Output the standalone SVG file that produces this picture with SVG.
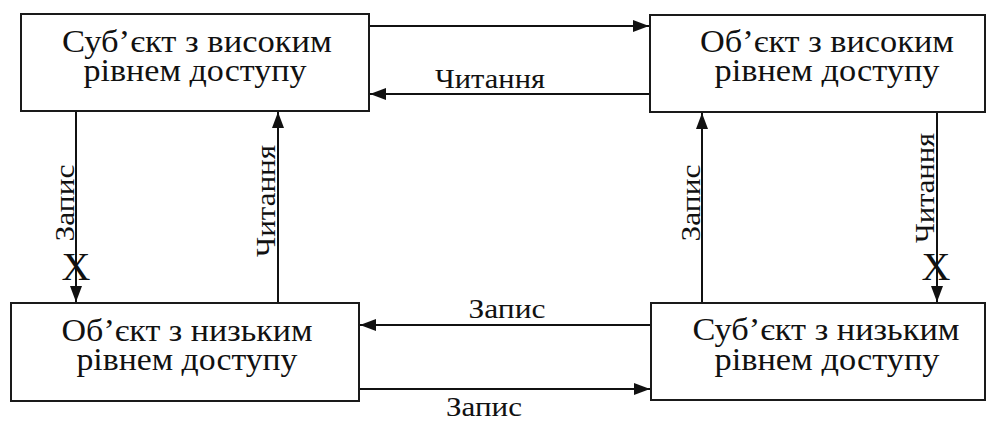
<svg xmlns="http://www.w3.org/2000/svg" width="986" height="421" viewBox="0 0 986 421">
<defs>
<style>
.box{fill:#fff;stroke:#1a1a1a;stroke-width:2}
.bt{font-family:'Liberation Serif','DejaVu Serif','Noto Serif','Times New Roman','FreeSerif','Tinos',serif;font-size:31px;fill:#111;text-anchor:middle}
.lbl{font-family:'Liberation Serif','DejaVu Serif','Noto Serif','Times New Roman','FreeSerif','Tinos',serif;font-size:27px;fill:#111;text-anchor:middle}
.xm{font-family:'Liberation Serif','DejaVu Serif',serif;font-size:40px;fill:#111;text-anchor:middle}
.ln{stroke:#111;stroke-width:2;fill:none;marker-end:url(#ah)}
</style>
<marker id="ah" markerWidth="16" markerHeight="12" refX="16" refY="6" orient="auto" markerUnits="userSpaceOnUse">
<path d="M0,0 L16,6 L0,12 Z" fill="#111"/>
</marker>
</defs>
<rect width="986" height="421" fill="#fff"/>
<g id="connectors">
<line class="ln" x1="370" y1="26" x2="649" y2="26"/>
<line class="ln" x1="650" y1="94" x2="370" y2="94"/>
<text class="lbl" x="490" y="88" textLength="110" lengthAdjust="spacingAndGlyphs">Читання</text>
<line class="ln" x1="76" y1="112" x2="76" y2="302"/>
<text class="lbl" transform="translate(74,203) rotate(-90)" textLength="77" lengthAdjust="spacingAndGlyphs">Запис</text>
<text class="xm" x="76" y="280">X</text>
<line class="ln" x1="278" y1="303" x2="278" y2="112"/>
<text class="lbl" transform="translate(275,201) rotate(-90)" textLength="112" lengthAdjust="spacingAndGlyphs">Читання</text>
<line class="ln" x1="702" y1="303" x2="702" y2="113"/>
<text class="lbl" transform="translate(700,203) rotate(-90)" textLength="77" lengthAdjust="spacingAndGlyphs">Запис</text>
<line class="ln" x1="937" y1="113" x2="937" y2="302"/>
<text class="lbl" transform="translate(934,188) rotate(-90)" textLength="110" lengthAdjust="spacingAndGlyphs">Читання</text>
<text class="xm" x="936" y="280">X</text>
<line class="ln" x1="651" y1="325" x2="360" y2="325"/>
<text class="lbl" x="507" y="318" textLength="77" lengthAdjust="spacingAndGlyphs">Запис</text>
<line class="ln" x1="359" y1="389" x2="650" y2="389"/>
<text class="lbl" x="484" y="416" textLength="76" lengthAdjust="spacingAndGlyphs">Запис</text>
</g>
<g id="subject-high">
<rect class="box" x="21" y="14" width="348" height="97"/>
<text class="bt" x="197" y="52" textLength="270" lengthAdjust="spacingAndGlyphs">Суб’єкт з високим</text>
<text class="bt" x="195" y="81" textLength="223" lengthAdjust="spacingAndGlyphs">рівнем доступу</text>
</g>
<g id="object-high">
<rect class="box" x="650" y="15" width="335" height="97"/>
<text class="bt" x="827" y="52" textLength="254" lengthAdjust="spacingAndGlyphs">Об’єкт з високим</text>
<text class="bt" x="827" y="81" textLength="225" lengthAdjust="spacingAndGlyphs">рівнем доступу</text>
</g>
<g id="object-low">
<rect class="box" x="11" y="303" width="348" height="98"/>
<text class="bt" x="187" y="341" textLength="251" lengthAdjust="spacingAndGlyphs">Об’єкт з низьким</text>
<text class="bt" x="187" y="370" textLength="221" lengthAdjust="spacingAndGlyphs">рівнем доступу</text>
</g>
<g id="subject-low">
<rect class="box" x="651" y="303" width="334" height="97"/>
<text class="bt" x="826" y="340" textLength="267" lengthAdjust="spacingAndGlyphs">Суб’єкт з низьким</text>
<text class="bt" x="827" y="370" textLength="225" lengthAdjust="spacingAndGlyphs">рівнем доступу</text>
</g>
</svg>
